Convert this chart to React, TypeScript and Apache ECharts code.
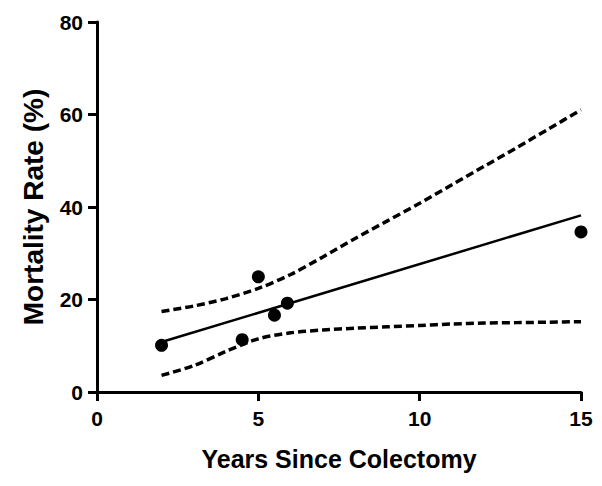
import React, { useEffect, useRef } from "react";
import * as echarts from "echarts";

const pointX = [2, 4.5, 5, 5.5, 5.9, 15];
const pointY = [10.1, 11.3, 24.9, 16.6, 19.2, 34.6];
const fitX = [2, 15];
const fitY = [10.8, 38.2];
const bandX = [2, 3, 4, 5, 6, 7, 8, 9, 10, 11, 12, 13, 14, 15];
const upperY = [17.4, 18.6, 20.2, 22.4, 25.4, 29.2, 33.2, 37.0, 40.8, 44.8, 48.8, 52.8, 56.9, 61.0];
const lowerY = [3.6, 5.7, 8.8, 11.5, 12.8, 13.4, 13.8, 14.1, 14.4, 14.7, 14.9, 15.0, 15.1, 15.2];
const xTitle = "Years Since Colectomy";
const yTitle = "Mortality Rate (%)";

const zip = (xs: number[], ys: number[]) => xs.map((x, i) => [x, ys[i]]);

export default function App() {
  const ref = useRef<HTMLDivElement>(null);
  useEffect(() => {
    if (!ref.current) return;
    const chart = echarts.init(ref.current, undefined, { renderer: "svg" });
    const font = "Arial, 'Liberation Sans', sans-serif";
    const axisCommon = {
      axisLine: { show: true, onZero: false, lineStyle: { color: "#000", width: 3 } },
      axisTick: { show: true, length: 9, lineStyle: { color: "#000", width: 3 } },
      splitLine: { show: false },
      axisLabel: { color: "#000", fontWeight: "bold", fontSize: 21, fontFamily: font },
      nameTextStyle: { color: "#000", fontWeight: "bold", fontFamily: font },
    };
    const dashed = { color: "#000", width: 3.5, type: [8, 4] as number[] };
    chart.setOption({
      animation: false,
      backgroundColor: "#fff",
      grid: { left: 97, right: 21, top: 22, bottom: 94 },
      xAxis: {
        type: "value",
        min: 0,
        max: 15,
        interval: 5,
        ...axisCommon,
        axisLabel: { ...axisCommon.axisLabel, margin: 16 },
        name: xTitle,
        nameLocation: "middle",
        nameGap: 54,
        nameTextStyle: { ...axisCommon.nameTextStyle, fontSize: 25 },
      },
      yAxis: {
        type: "value",
        min: 0,
        max: 80,
        interval: 20,
        ...axisCommon,
        axisLabel: { ...axisCommon.axisLabel, margin: 14 },
        name: yTitle,
        nameLocation: "middle",
        nameGap: 50,
        nameTextStyle: { ...axisCommon.nameTextStyle, fontSize: 28 },
      },
      series: [
        {
          type: "line",
          data: zip(bandX, upperY),
          smooth: 0.3,
          showSymbol: false,
          lineStyle: dashed,
          z: 2,
        },
        {
          type: "line",
          data: zip(bandX, lowerY),
          smooth: 0.3,
          showSymbol: false,
          lineStyle: dashed,
          z: 2,
        },
        {
          type: "line",
          data: zip(fitX, fitY),
          showSymbol: false,
          lineStyle: { color: "#000", width: 2.5 },
          z: 3,
        },
        {
          type: "scatter",
          data: zip(pointX, pointY),
          symbol: "circle",
          symbolSize: 13,
          itemStyle: { color: "#000", opacity: 1 },
          z: 4,
        },
      ],
    });
    return () => chart.dispose();
  }, []);
  return (
    <div
      ref={ref}
      style={{ position: "absolute", left: 0, top: 0, width: 602, height: 486, background: "#fff" }}
    />
  );
}
